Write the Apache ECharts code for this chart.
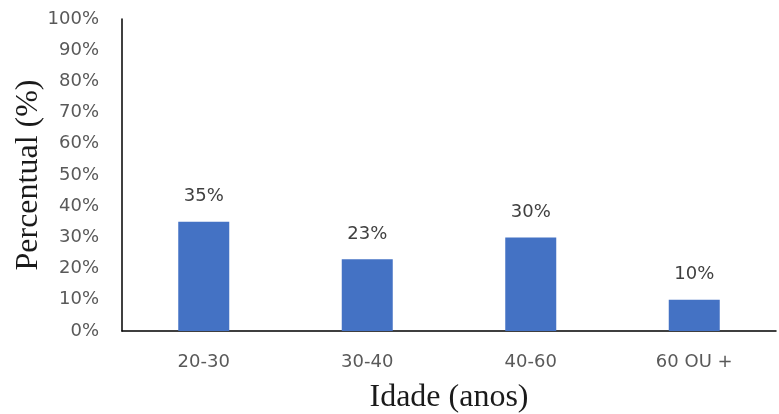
<!DOCTYPE html>
<html>
<head>
<meta charset="utf-8">
<script src="https://cdn.jsdelivr.net/npm/echarts@6/dist/echarts.min.js"></script>
<style>html,body{margin:0;padding:0;background:#fff}#c{width:779px;height:414px}</style>
</head>
<body>
<div id="c"></div>
<script>
var categories = ['20-30', '30-40', '40-60', '60 OU +'];
var values = [35, 23, 30, 10];
var yTicks = [0, 10, 20, 30, 40, 50, 60, 70, 80, 90, 100];

var chart = echarts.init(document.getElementById('c'), null, {renderer: 'canvas'});
chart.setOption({
  animation: false,
  grid: {left: 122, right: 3, top: 19, bottom: 83, containLabel: false, outerBoundsMode: 'none'},
  xAxis: {
    type: 'category',
    data: categories,
    name: 'Idade (anos)',
    nameLocation: 'middle',
    nameGap: 51,
    nameTextStyle: {fontFamily: 'Liberation Serif', fontSize: 32, color: '#1a1a1a'},
    axisLine: {lineStyle: {color: '#000', width: 1.5}},
    axisTick: {show: false},
    axisLabel: {fontFamily: 'DejaVu Sans', fontSize: 18, color: '#595959', margin: 22}
  },
  yAxis: {
    type: 'value',
    min: yTicks[0],
    max: yTicks[yTicks.length - 1],
    interval: 10,
    name: 'Percentual (%)',
    nameLocation: 'middle',
    nameGap: 77,
    nameRotate: 90,
    nameMoveOverlap: false,
    nameTextStyle: {fontFamily: 'Liberation Serif', fontSize: 32, color: '#1a1a1a'},
    axisLine: {show: true, lineStyle: {color: '#000', width: 1.5}},
    axisTick: {show: false},
    splitLine: {show: false},
    axisLabel: {fontFamily: 'DejaVu Sans', fontSize: 18, color: '#595959', margin: 23, formatter: '{value}%'}
  },
  series: [{
    type: 'bar',
    data: values,
    barWidth: 51,
    itemStyle: {color: '#4472C4'},
    label: {show: true, position: 'top', distance: 16, formatter: '{c}%', fontFamily: 'DejaVu Sans', fontSize: 18, color: '#404040'}
  }]
});
</script>
</body>
</html>
